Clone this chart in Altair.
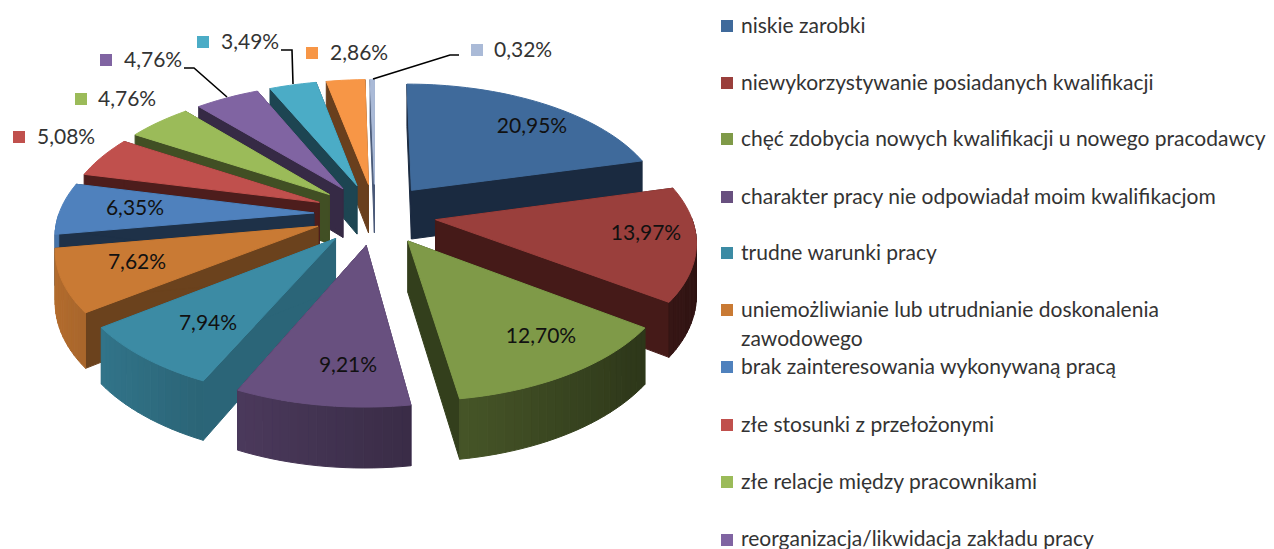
import math
import altair as alt
import pandas as pd

# ---- data ----
values = [20.95, 13.97, 12.70, 9.21, 7.94, 7.62, 6.35, 5.08, 4.76, 4.76, 3.49, 2.86, 0.32]
value_labels = ["20,95%", "13,97%", "12,70%", "9,21%", "7,94%", "7,62%", "6,35%", "5,08%", "4,76%", "4,76%", "3,49%", "2,86%", "0,32%"]
top_colors = ["#3f6a9b", "#9a3f3c", "#7f9a48", "#68507f", "#3c8ba4", "#c97a34", "#4f81bd", "#c0504d", "#9bbb59", "#8064a2", "#4bacc6", "#f79646", "#aabad7"]
wall_colors = ["#1a2a40", "#451a18", "#333f1c", "#3f2f55", "#2b6578", "#6b421d", "#1e3148", "#4d1d1c", "#414f24", "#362a45", "#1d4552", "#693f1d", "#4a5a78"]
legend_names = ["niskie zarobki", "niewykorzystywanie posiadanych kwalifikacji",
                "chęć zdobycia nowych kwalifikacji u nowego pracodawcy",
                "charakter pracy nie odpowiadał moim kwalifikacjom", "trudne warunki pracy",
                "uniemożliwianie lub utrudnianie doskonalenia", "brak zainteresowania  wykonywaną pracą",
                "złe stosunki z przełożonymi", "złe relacje między pracownikami",
                "reorganizacja/likwidacja zakładu pracy"]
legend_colors = top_colors[:10]

# ---- layout ----
W, H = 1258, 541
CX, CY, RX, RY, EXPL, PERSP, DEPTH = 375, 214, 255, 128, 0.24, 0.145, 50
legend_rows = [27, 84, 140, 198, 254, 311, 368, 426, 483, 540]
inside_anchor = {0: (532, 127), 1: (646, 234), 2: (541, 337), 3: (348, 366), 4: (208, 324), 5: (137, 263), 6: (135, 209)}
outside_anchor = {7: (37, 138), 8: (98, 100), 9: (124, 61), 10: (221, 43), 11: (330, 54), 12: (494, 51)}
outside_key = {7: (19, 137), 8: (81, 99), 9: (106, 60), 10: (203, 42), 11: (312, 53), 12: (477, 50)}
leaders = [[(184, 68), (194, 68), (227, 97)], [(281, 50), (292, 50), (293, 84)], [(459, 55), (450, 55), (373, 79)]]
FONT = "Lato"
FS = 21


def project(X, Y, low=False):
    w = 1 / (1 - PERSP * Y)
    return CX + RX * X * w, CY + RY * Y * w + (DEPTH * w if low else 0)


def shade(col, f):
    r, g, b = int(col[1:3], 16), int(col[3:5], 16), int(col[5:7], 16)
    return "#%02x%02x%02x" % tuple(min(255, int(c * f)) for c in (r, g, b))


rows = []
pid = 0


def add_poly(points, color):
    global pid
    pid += 1
    for i, (x, y) in enumerate(points + points[:1]):
        rows.append({"poly": pid, "i": i, "x": x, "y": y, "c": color})


total = sum(values)
spans = []
a = 0.0
for v in values:
    b = a + v / total * 2 * math.pi
    spans.append((a, b))
    a = b

draw_order = sorted(range(len(values)), key=lambda k: -math.cos((spans[k][0] + spans[k][1]) / 2))
for k in draw_order:
    a0, b0 = spans[k]
    m = (a0 + b0) / 2
    ox, oy = EXPL * math.sin(m), -EXPL * math.cos(m)

    def pt(ang, r=1.0):
        return ox + r * math.sin(ang), oy - r * math.cos(ang)

    n = max(3, int((b0 - a0) / 0.03))
    angs = [a0 + (b0 - a0) * i / n for i in range(n + 1)]
    top = top_colors[k]
    for ang in (a0, b0):
        add_poly([project(ox, oy), project(*pt(ang)), project(*pt(ang), low=True), project(ox, oy, low=True)], wall_colors[k])
    for i in range(n):
        if -math.cos((angs[i] + angs[i + 1]) / 2) <= 0:
            continue
        s = math.sin((angs[i] + angs[i + 1]) / 2)
        f = 0.6 - 0.3 * s
        add_poly([project(*pt(angs[i])), project(*pt(angs[i + 1])), project(*pt(angs[i + 1]), low=True), project(*pt(angs[i]), low=True)], shade(top, f))
    add_poly([project(ox, oy)] + [project(*pt(t)) for t in angs], top)

df = pd.DataFrame(rows)
xs = alt.Scale(domain=[8, 8 + W], range=[0, W])
ys = alt.Scale(domain=[8, 8 + H], range=[0, H])
X = alt.X("x:Q", scale=xs, axis=None)
Y = alt.Y("y:Q", scale=ys, axis=None)

pie = alt.Chart(df).mark_line(strokeWidth=1, interpolate="linear").encode(
    x=X, y=Y, order="i:Q", detail="poly:N",
    fill=alt.Fill("c:N", scale=None), stroke=alt.Stroke("c:N", scale=None))

lead_df = pd.DataFrame([{"l": i, "i": j, "x": p[0], "y": p[1]} for i, l in enumerate(leaders) for j, p in enumerate(l)])
lead = alt.Chart(lead_df).mark_line(color="black", strokeWidth=1.6).encode(x=X, y=Y, detail="l:N", order="i:Q")

in_df = pd.DataFrame([{"x": p[0], "y": p[1], "t": value_labels[k]} for k, p in inside_anchor.items()])
in_text = alt.Chart(in_df).mark_text(font=FONT, fontSize=FS, color="#111111", align="center", baseline="middle").encode(x=X, y=Y, text="t:N")
out_df = pd.DataFrame([{"x": p[0], "y": p[1], "t": value_labels[k]} for k, p in outside_anchor.items()])
out_text = alt.Chart(out_df).mark_text(font=FONT, fontSize=FS, color="#333333", align="left", baseline="middle").encode(x=X, y=Y, text="t:N")
key_df = pd.DataFrame([{"x": p[0], "y": p[1], "c": top_colors[k]} for k, p in outside_key.items()])
keys = alt.Chart(key_df).mark_square(size=144, opacity=1).encode(x=X, y=Y, fill=alt.Fill("c:N", scale=None), stroke=alt.value(None))

leg_df = pd.DataFrame({"x": 727, "y": [r - 1 for r in legend_rows[:-1]] + [legend_rows[-1]], "c": legend_colors})
leg_keys = alt.Chart(leg_df).mark_square(size=144, opacity=1).encode(x=X, y=Y, fill=alt.Fill("c:N", scale=None), stroke=alt.value(None))
leg_txt_df = pd.DataFrame({"x": 741, "y": legend_rows, "t": legend_names})
leg_txt_df = pd.concat([leg_txt_df, pd.DataFrame([{"x": 741, "y": 340, "t": "zawodowego"}])])
leg_text = alt.Chart(leg_txt_df).mark_text(font=FONT, fontSize=FS, color="#333333", align="left", baseline="middle").encode(x=X, y=Y, text="t:N")

chart = alt.layer(pie, lead, keys, in_text, out_text, leg_keys, leg_text).properties(
    width=W, height=H, padding=0, autosize=alt.AutoSizeParams(type="none"), background="white"
).configure_view(stroke=None)
chart.save("out.html", embed_options={"renderer": "svg", "actions": False})
